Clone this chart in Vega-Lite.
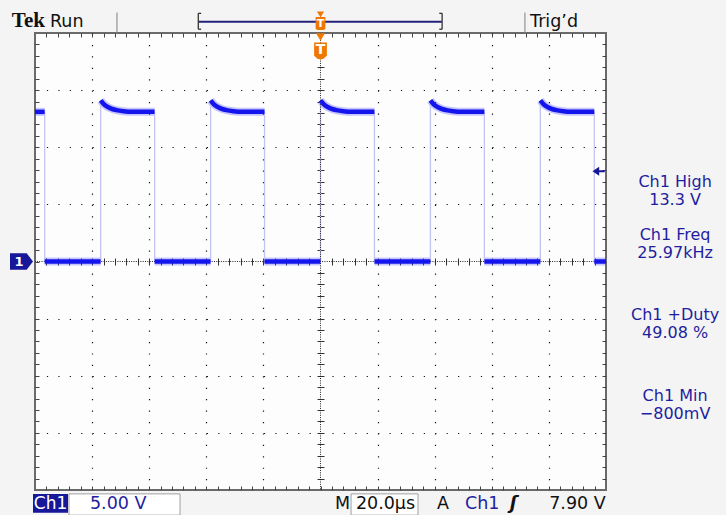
{
  "$schema": "https://vega.github.io/schema/vega-lite/v6.json",
  "width": 571,
  "height": 457,
  "autosize": {"type": "none"},
  "padding": {"left": 35, "top": 33, "right": 120, "bottom": 25},
  "background": "#f4f4f4",
  "config": {"view": {"fill": "#fdfdfd", "stroke": "#6a6a6a", "strokeWidth": 2}},
  "datasets": {
    "trace": [
      {"t": -100, "v": 13.1, "s": "h0"}, {"t": -96.6, "v": 13.1, "s": "h0"},
      {"t": -96.6, "v": 0, "s": "l0"}, {"t": -77.0, "v": 0, "s": "l0"},
      {"t": -77.0, "v": 14.1, "s": "h1"}, {"t": -76.0, "v": 13.8, "s": "h1"}, {"t": -75.0, "v": 13.6, "s": "h1"}, {"t": -73.5, "v": 13.4, "s": "h1"}, {"t": -71.5, "v": 13.25, "s": "h1"}, {"t": -69.0, "v": 13.15, "s": "h1"}, {"t": -66.0, "v": 13.1, "s": "h1"}, {"t": -58.1, "v": 13.1, "s": "h1"},
      {"t": -58.1, "v": 0, "s": "l1"}, {"t": -38.5, "v": 0, "s": "l1"},
      {"t": -38.5, "v": 14.1, "s": "h2"}, {"t": -37.5, "v": 13.8, "s": "h2"}, {"t": -36.5, "v": 13.6, "s": "h2"}, {"t": -35.0, "v": 13.4, "s": "h2"}, {"t": -33.0, "v": 13.25, "s": "h2"}, {"t": -30.5, "v": 13.15, "s": "h2"}, {"t": -27.5, "v": 13.1, "s": "h2"}, {"t": -19.6, "v": 13.1, "s": "h2"},
      {"t": -19.6, "v": 0, "s": "l2"}, {"t": 0, "v": 0, "s": "l2"},
      {"t": 0, "v": 14.1, "s": "h3"}, {"t": 1.0, "v": 13.8, "s": "h3"}, {"t": 2.0, "v": 13.6, "s": "h3"}, {"t": 3.5, "v": 13.4, "s": "h3"}, {"t": 5.5, "v": 13.25, "s": "h3"}, {"t": 8.0, "v": 13.15, "s": "h3"}, {"t": 11.0, "v": 13.1, "s": "h3"}, {"t": 18.9, "v": 13.1, "s": "h3"},
      {"t": 18.9, "v": 0, "s": "l3"}, {"t": 38.5, "v": 0, "s": "l3"},
      {"t": 38.5, "v": 14.1, "s": "h4"}, {"t": 39.5, "v": 13.8, "s": "h4"}, {"t": 40.5, "v": 13.6, "s": "h4"}, {"t": 42.0, "v": 13.4, "s": "h4"}, {"t": 44.0, "v": 13.25, "s": "h4"}, {"t": 46.5, "v": 13.15, "s": "h4"}, {"t": 49.5, "v": 13.1, "s": "h4"}, {"t": 57.4, "v": 13.1, "s": "h4"},
      {"t": 57.4, "v": 0, "s": "l4"}, {"t": 77.0, "v": 0, "s": "l4"},
      {"t": 77.0, "v": 14.1, "s": "h5"}, {"t": 78.0, "v": 13.8, "s": "h5"}, {"t": 79.0, "v": 13.6, "s": "h5"}, {"t": 80.5, "v": 13.4, "s": "h5"}, {"t": 82.5, "v": 13.25, "s": "h5"}, {"t": 85.0, "v": 13.15, "s": "h5"}, {"t": 88.0, "v": 13.1, "s": "h5"}, {"t": 95.9, "v": 13.1, "s": "h5"},
      {"t": 95.9, "v": 0, "s": "l5"}, {"t": 100, "v": 0, "s": "l5"}
    ],
    "edges": [
      {"t": -96.6, "lo": 0, "hi": 13.1}, {"t": -77.0, "lo": 0, "hi": 14.1},
      {"t": -58.1, "lo": 0, "hi": 13.1}, {"t": -38.5, "lo": 0, "hi": 14.1},
      {"t": -19.6, "lo": 0, "hi": 13.1}, {"t": 0, "lo": 0, "hi": 14.1},
      {"t": 18.9, "lo": 0, "hi": 13.1}, {"t": 38.5, "lo": 0, "hi": 14.1},
      {"t": 57.4, "lo": 0, "hi": 13.1}, {"t": 77.0, "lo": 0, "hi": 14.1},
      {"t": 95.9, "lo": 0, "hi": 13.1}
    ],
    "rtext": [
      {"t": 124.2, "v": 6.95, "s": "Ch1 High"},
      {"t": 124.2, "v": 5.4, "s": "13.3 V"},
      {"t": 124.2, "v": 2.32, "s": "Ch1 Freq"},
      {"t": 124.2, "v": 0.77, "s": "25.97kHz"},
      {"t": 124.2, "v": -4.7, "s": "Ch1 +Duty"},
      {"t": 124.2, "v": -6.25, "s": "49.08 %"},
      {"t": 124.2, "v": -11.8, "s": "Ch1 Min"},
      {"t": 124.2, "v": -13.35, "s": "−800mV"}
    ],
    "blacktext": [
      {"t": -94.75, "v": 20.5, "s": "Run"},
      {"t": 73.4, "v": 20.5, "s": "Trig’d"},
      {"t": 5.08, "v": -21.7, "s": "M"},
      {"t": 12.4, "v": -21.7, "s": "20.0µs"},
      {"t": 40.8, "v": -21.7, "s": "A"}
    ],
    "bluetext": [
      {"t": -80.74, "v": -21.7, "s": "5.00 V"},
      {"t": 50.6, "v": -21.7, "s": "Ch1"}
    ],
    "lines": [
      {"x1": -42.8, "x2": -42.8, "y1": 21.72, "y2": 20.33, "k": "br"},
      {"x1": -42.8, "x2": -41.8, "y1": 21.72, "y2": 21.72, "k": "br"},
      {"x1": -42.8, "x2": -41.8, "y1": 20.33, "y2": 20.33, "k": "br"},
      {"x1": 42.6, "x2": 42.6, "y1": 21.72, "y2": 20.33, "k": "br"},
      {"x1": 41.6, "x2": 42.6, "y1": 21.72, "y2": 21.72, "k": "br"},
      {"x1": 41.6, "x2": 42.6, "y1": 20.33, "y2": 20.33, "k": "br"},
      {"x1": -71.3, "x2": -71.3, "y1": 21.8, "y2": 20.05, "k": "sep"},
      {"x1": 71.6, "x2": 71.6, "y1": 21.8, "y2": 20.05, "k": "sep"}
    ]
  },
  "resolve": {"axis": {"x": "independent", "y": "independent"}},
  "layer": [
    {
      "data": {"name": "trace"},
      "mark": {"type": "line", "stroke": "#4a4aff", "strokeWidth": 8, "opacity": 0.3, "interpolate": "monotone"},
      "encoding": {
        "x": {"field": "t", "type": "quantitative", "scale": {"domain": [-100, 100], "nice": false, "zero": false},
          "axis": {"grid": true, "values": [-80, -60, -40, -20, 20, 40, 60, 80], "gridDash": [1.2, 10.225], "gridColor": "#111", "gridWidth": 1.2, "ticks": false, "labels": false, "domain": false, "title": null}},
        "y": {"field": "v", "type": "quantitative", "scale": {"domain": [-20, 20], "nice": false, "zero": false},
          "axis": {"grid": true, "values": [-15, -10, -5, 5, 10, 15], "gridDash": [1.2, 10.22], "gridColor": "#111", "gridWidth": 1.2, "ticks": false, "labels": false, "domain": false, "title": null}},
        "detail": {"field": "s"}
      }
    },
    {
      "data": {"name": "edges"},
      "mark": {"type": "rule", "stroke": "#c4c4f2", "strokeWidth": 1.3},
      "encoding": {
        "x": {"field": "t", "type": "quantitative", "scale": {"domain": [-100, 100], "nice": false, "zero": false},
          "axis": {"orient": "top", "offset": -4, "tickSize": 4, "ticks": true, "tickColor": "#444", "values": [-96,-92,-88,-84,-80,-76,-72,-68,-64,-60,-56,-52,-48,-44,-40,-36,-32,-28,-24,-20,-16,-12,-8,-4,0,4,8,12,16,20,24,28,32,36,40,44,48,52,56,60,64,68,72,76,80,84,88,92,96], "labels": false, "domain": false, "grid": false, "title": null}},
        "y": {"field": "lo", "type": "quantitative", "scale": {"domain": [-20, 20], "nice": false, "zero": false},
          "axis": {"orient": "right", "offset": -4, "tickSize": 4, "ticks": true, "tickColor": "#444", "values": [-19,-18,-17,-16,-15,-14,-13,-12,-11,-10,-9,-8,-7,-6,-5,-4,-3,-2,-1,0,1,2,3,4,5,6,7,8,9,10,11,12,13,14,15,16,17,18,19], "labels": false, "domain": false, "grid": false, "title": null}},
        "y2": {"field": "hi"}
      }
    },
    {
      "data": {"values": [{"t": 0}]},
      "mark": {"type": "rule", "stroke": "#222", "strokeWidth": 1, "strokeDash": [1, 1.3]},
      "encoding": {
        "x": {"field": "t", "type": "quantitative", "scale": {"domain": [-100, 100], "nice": false, "zero": false},
          "axis": {"orient": "bottom", "offset": -232, "tickSize": 7, "ticks": true, "tickColor": "#333", "values": [-96,-92,-88,-84,-80,-76,-72,-68,-64,-60,-56,-52,-48,-44,-40,-36,-32,-28,-24,-20,-16,-12,-8,-4,4,8,12,16,20,24,28,32,36,40,44,48,52,56,60,64,68,72,76,80,84,88,92,96], "labels": false, "domain": false, "grid": false, "title": null}}
      }
    },
    {
      "data": {"values": [{"v": 0}]},
      "mark": {"type": "rule", "stroke": "#222", "strokeWidth": 1, "strokeDash": [1, 1.3]},
      "encoding": {
        "y": {"field": "v", "type": "quantitative", "scale": {"domain": [-20, 20], "nice": false, "zero": false},
          "axis": {"orient": "left", "offset": -289, "tickSize": 7, "ticks": true, "tickColor": "#333", "values": [-19,-18,-17,-16,-15,-14,-13,-12,-11,-10,-9,-8,-7,-6,-5,-4,-3,-2,-1,1,2,3,4,5,6,7,8,9,10,11,12,13,14,15,16,17,18,19], "labels": false, "domain": false, "grid": false, "title": null}}
      }
    },
    {
      "data": {"name": "trace"},
      "mark": {"type": "line", "stroke": "#1414ec", "strokeWidth": 4.5, "interpolate": "monotone"},
      "encoding": {
        "x": {"field": "t", "type": "quantitative", "scale": {"domain": [-100, 100], "nice": false, "zero": false},
          "axis": {"orient": "bottom", "offset": -4, "tickSize": 4, "ticks": true, "tickColor": "#444", "values": [-96,-92,-88,-84,-80,-76,-72,-68,-64,-60,-56,-52,-48,-44,-40,-36,-32,-28,-24,-20,-16,-12,-8,-4,0,4,8,12,16,20,24,28,32,36,40,44,48,52,56,60,64,68,72,76,80,84,88,92,96], "labels": false, "domain": false, "grid": false, "title": null}},
        "y": {"field": "v", "type": "quantitative", "scale": {"domain": [-20, 20], "nice": false, "zero": false},
          "axis": {"orient": "left", "offset": -4, "tickSize": 4, "ticks": true, "tickColor": "#444", "values": [-19,-18,-17,-16,-15,-14,-13,-12,-11,-10,-9,-8,-7,-6,-5,-4,-3,-2,-1,0,1,2,3,4,5,6,7,8,9,10,11,12,13,14,15,16,17,18,19], "labels": false, "domain": false, "grid": false, "title": null}},
        "detail": {"field": "s"}
      }
    },
    {
      "data": {"name": "lines"},
      "mark": {"type": "rule", "strokeWidth": 1.3},
      "encoding": {
        "x": {"field": "x1", "type": "quantitative", "scale": {"domain": [-100, 100], "nice": false, "zero": false}, "axis": null},
        "x2": {"field": "x2"},
        "y": {"field": "y1", "type": "quantitative", "scale": {"domain": [-20, 20], "nice": false, "zero": false}, "axis": null},
        "y2": {"field": "y2"},
        "color": {"field": "k", "type": "nominal", "scale": {"domain": ["br", "sep"], "range": ["#333333", "#9a9a9a"]}, "legend": null}
      }
    },
    {
      "data": {"values": [{"a": -42.6, "b": 42.5, "v": 20.99}]},
      "mark": {"type": "rule", "stroke": "#22227a", "strokeWidth": 2},
      "encoding": {
        "x": {"field": "a", "type": "quantitative", "scale": {"domain": [-100, 100], "nice": false, "zero": false}, "axis": null},
        "x2": {"field": "b"},
        "y": {"field": "v", "type": "quantitative", "scale": {"domain": [-20, 20], "nice": false, "zero": false}, "axis": null}
      }
    },
    {
      "data": {"values": [{"a": -100.7, "b": -88.44, "c": -20.34, "d": -22.0}]},
      "mark": {"type": "rect", "fill": "#17179a"},
      "encoding": {
        "x": {"field": "a", "type": "quantitative", "scale": {"domain": [-100, 100], "nice": false, "zero": false}, "axis": null},
        "x2": {"field": "b"},
        "y": {"field": "c", "type": "quantitative", "scale": {"domain": [-20, 20], "nice": false, "zero": false}, "axis": null},
        "y2": {"field": "d"}
      }
    },
    {
      "data": {"values": [{"a": -88.1, "b": -49.2, "c": -20.34, "d": -22.2}, {"a": 10.7, "b": 34.15, "c": -20.34, "d": -22.2}]},
      "mark": {"type": "rect", "fill": "#ffffff", "stroke": "#a0a0a0", "strokeWidth": 1},
      "encoding": {
        "x": {"field": "a", "type": "quantitative", "scale": {"domain": [-100, 100], "nice": false, "zero": false}, "axis": null},
        "x2": {"field": "b"},
        "y": {"field": "c", "type": "quantitative", "scale": {"domain": [-20, 20], "nice": false, "zero": false}, "axis": null},
        "y2": {"field": "d"}
      }
    },
    {
      "data": {"name": "rtext"},
      "mark": {"type": "text", "align": "center", "baseline": "middle", "font": "DejaVu Sans", "fontSize": 16, "fill": "#1e1ea0"},
      "encoding": {
        "x": {"field": "t", "type": "quantitative", "scale": {"domain": [-100, 100], "nice": false, "zero": false}, "axis": null},
        "y": {"field": "v", "type": "quantitative", "scale": {"domain": [-20, 20], "nice": false, "zero": false}, "axis": null},
        "text": {"field": "s"}
      }
    },
    {
      "data": {"name": "blacktext"},
      "mark": {"type": "text", "align": "left", "baseline": "alphabetic", "font": "DejaVu Sans", "fontSize": 17.5, "fill": "#111111"},
      "encoding": {
        "x": {"field": "t", "type": "quantitative", "scale": {"domain": [-100, 100], "nice": false, "zero": false}, "axis": null},
        "y": {"field": "v", "type": "quantitative", "scale": {"domain": [-20, 20], "nice": false, "zero": false}, "axis": null},
        "text": {"field": "s"}
      }
    },
    {
      "data": {"values": [{"t": 99.9, "v": -21.7, "s": "7.90 V"}]},
      "mark": {"type": "text", "align": "right", "baseline": "alphabetic", "font": "DejaVu Sans", "fontSize": 17.5, "fill": "#111111"},
      "encoding": {
        "x": {"field": "t", "type": "quantitative", "scale": {"domain": [-100, 100], "nice": false, "zero": false}, "axis": null},
        "y": {"field": "v", "type": "quantitative", "scale": {"domain": [-20, 20], "nice": false, "zero": false}, "axis": null},
        "text": {"field": "s"}
      }
    },
    {
      "data": {"values": [{"t": 67.6, "v": -21.7, "s": "ʃ"}]},
      "mark": {"type": "text", "align": "center", "baseline": "alphabetic", "font": "DejaVu Sans", "fontSize": 18, "fontWeight": "bold", "fontStyle": "italic", "fill": "#111111"},
      "encoding": {
        "x": {"field": "t", "type": "quantitative", "scale": {"domain": [-100, 100], "nice": false, "zero": false}, "axis": null},
        "y": {"field": "v", "type": "quantitative", "scale": {"domain": [-20, 20], "nice": false, "zero": false}, "axis": null},
        "text": {"field": "s"}
      }
    },
    {
      "data": {"name": "bluetext"},
      "mark": {"type": "text", "align": "left", "baseline": "alphabetic", "font": "DejaVu Sans", "fontSize": 17.5, "fill": "#1e1ea0"},
      "encoding": {
        "x": {"field": "t", "type": "quantitative", "scale": {"domain": [-100, 100], "nice": false, "zero": false}, "axis": null},
        "y": {"field": "v", "type": "quantitative", "scale": {"domain": [-20, 20], "nice": false, "zero": false}, "axis": null},
        "text": {"field": "s"}
      }
    },
    {
      "data": {"values": [{"t": -94.57, "v": -21.7, "s": "Ch1"}]},
      "mark": {"type": "text", "align": "center", "baseline": "alphabetic", "font": "DejaVu Sans", "fontSize": 17, "fill": "#ffffff"},
      "encoding": {
        "x": {"field": "t", "type": "quantitative", "scale": {"domain": [-100, 100], "nice": false, "zero": false}, "axis": null},
        "y": {"field": "v", "type": "quantitative", "scale": {"domain": [-20, 20], "nice": false, "zero": false}, "axis": null},
        "text": {"field": "s"}
      }
    },
    {
      "data": {"values": [{"t": -108.1, "v": 20.5, "s": "Tek"}]},
      "mark": {"type": "text", "align": "left", "baseline": "alphabetic", "font": "Liberation Serif", "fontSize": 21, "fontWeight": "bold", "fill": "#111111"},
      "encoding": {
        "x": {"field": "t", "type": "quantitative", "scale": {"domain": [-100, 100], "nice": false, "zero": false}, "axis": null},
        "y": {"field": "v", "type": "quantitative", "scale": {"domain": [-20, 20], "nice": false, "zero": false}, "axis": null},
        "text": {"field": "s"}
      }
    },
    {
      "data": {"values": [{"t": 0, "v": 21.62}]},
      "mark": {"type": "point", "shape": "triangle-down", "size": 50, "filled": true, "fill": "#f07800", "opacity": 1},
      "encoding": {
        "x": {"field": "t", "type": "quantitative", "scale": {"domain": [-100, 100], "nice": false, "zero": false}, "axis": null},
        "y": {"field": "v", "type": "quantitative", "scale": {"domain": [-20, 20], "nice": false, "zero": false}, "axis": null}
      }
    },
    {
      "data": {"values": [{"t": 0, "v": 20.83}]},
      "mark": {"type": "point", "shape": "M -0.75 -1 L 0.75 -1 L 0.75 0.8 L 0.5 1 L -0.5 1 L -0.75 0.8 Z", "size": 169, "filled": true, "fill": "#f07800", "opacity": 1},
      "encoding": {
        "x": {"field": "t", "type": "quantitative", "scale": {"domain": [-100, 100], "nice": false, "zero": false}, "axis": null},
        "y": {"field": "v", "type": "quantitative", "scale": {"domain": [-20, 20], "nice": false, "zero": false}, "axis": null}
      }
    },
    {
      "data": {"values": [{"t": 0, "v": 19.65}]},
      "mark": {"type": "point", "shape": "triangle-down", "size": 80, "filled": true, "fill": "#f07800", "opacity": 1},
      "encoding": {
        "x": {"field": "t", "type": "quantitative", "scale": {"domain": [-100, 100], "nice": false, "zero": false}, "axis": null},
        "y": {"field": "v", "type": "quantitative", "scale": {"domain": [-20, 20], "nice": false, "zero": false}, "axis": null}
      }
    },
    {
      "data": {"values": [{"t": 0, "v": 18.42}]},
      "mark": {"type": "point", "shape": "M -0.75 -1 L 0.75 -1 L 0.75 0.55 L 0.35 0.9 L 0 1 L -0.35 0.9 L -0.75 0.55 Z", "size": 289, "filled": true, "fill": "#f07800", "opacity": 1},
      "encoding": {
        "x": {"field": "t", "type": "quantitative", "scale": {"domain": [-100, 100], "nice": false, "zero": false}, "axis": null},
        "y": {"field": "v", "type": "quantitative", "scale": {"domain": [-20, 20], "nice": false, "zero": false}, "axis": null}
      }
    },
    {
      "data": {"values": [{"t": 0, "v": 20.83, "s": "T", "k": "top"}, {"t": 0, "v": 18.5, "s": "T", "k": "plot"}]},
      "mark": {"type": "text", "align": "center", "baseline": "middle", "font": "DejaVu Sans", "fontWeight": "bold", "fill": "#ffffff"},
      "encoding": {
        "x": {"field": "t", "type": "quantitative", "scale": {"domain": [-100, 100], "nice": false, "zero": false}, "axis": null},
        "y": {"field": "v", "type": "quantitative", "scale": {"domain": [-20, 20], "nice": false, "zero": false}, "axis": null},
        "size": {"field": "k", "type": "nominal", "scale": {"domain": ["top", "plot"], "range": [11, 14]}, "legend": null},
        "text": {"field": "s"}
      }
    },
    {
      "data": {"values": [{"t": -104.73, "v": 0}]},
      "mark": {"type": "point", "shape": "M -1 -0.72 L 0.45 -0.72 L 1 0 L 0.45 0.72 L -1 0.72 Z", "size": 529, "filled": true, "fill": "#17179a", "opacity": 1},
      "encoding": {
        "x": {"field": "t", "type": "quantitative", "scale": {"domain": [-100, 100], "nice": false, "zero": false}, "axis": null},
        "y": {"field": "v", "type": "quantitative", "scale": {"domain": [-20, 20], "nice": false, "zero": false}, "axis": null}
      }
    },
    {
      "data": {"values": [{"t": -105.6, "v": 0, "s": "1"}]},
      "mark": {"type": "text", "align": "center", "baseline": "middle", "font": "DejaVu Sans", "fontSize": 13, "fontWeight": "bold", "fill": "#ffffff"},
      "encoding": {
        "x": {"field": "t", "type": "quantitative", "scale": {"domain": [-100, 100], "nice": false, "zero": false}, "axis": null},
        "y": {"field": "v", "type": "quantitative", "scale": {"domain": [-20, 20], "nice": false, "zero": false}, "axis": null},
        "text": {"field": "s"}
      }
    },
    {
      "data": {"values": [{"t": 97.4, "v": 7.9}]},
      "mark": {"type": "point", "shape": "M -1 0 L 0.1 -0.75 L 0.1 0.75 Z M 0.1 -0.15 L 1 -0.15 L 1 0.15 L 0.1 0.15 Z", "size": 150, "filled": true, "fill": "#17179a", "opacity": 1},
      "encoding": {
        "x": {"field": "t", "type": "quantitative", "scale": {"domain": [-100, 100], "nice": false, "zero": false}, "axis": null},
        "y": {"field": "v", "type": "quantitative", "scale": {"domain": [-20, 20], "nice": false, "zero": false}, "axis": null}
      }
    }
  ]
}
